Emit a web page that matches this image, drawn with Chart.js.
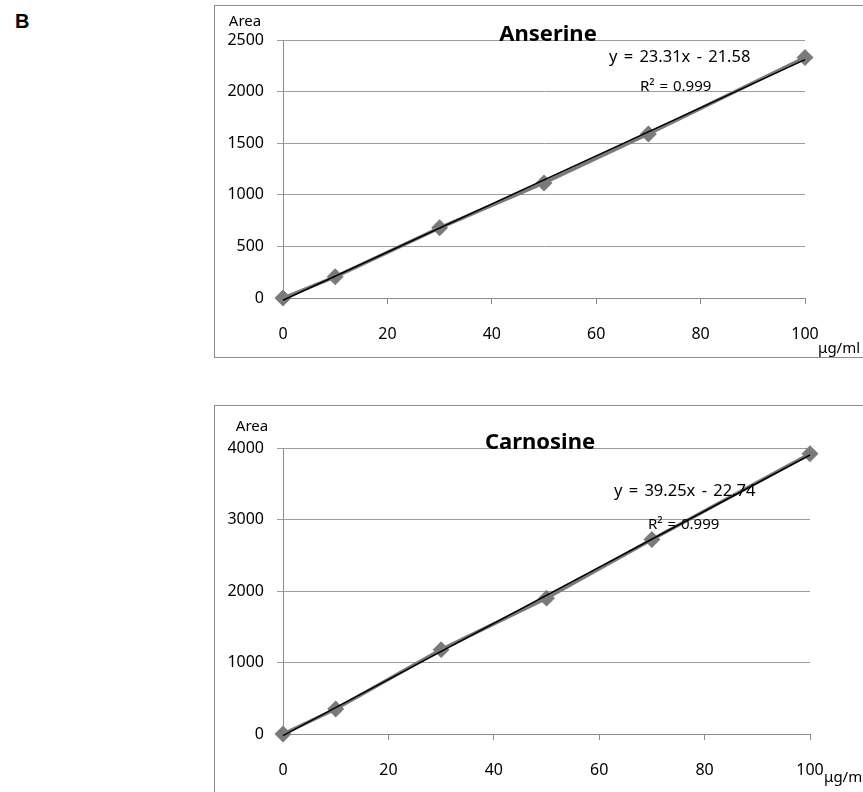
<!DOCTYPE html>
<html lang="en">
<head>
    <meta charset="UTF-8">
    <title>Anserine / Carnosine calibration</title>
    <script src="https://cdn.jsdelivr.net/npm/chart.js"></script>
    <style>
        html, body { margin: 0; padding: 0; background: #fff; overflow: hidden; width: 863px; height: 792px; }
        .panel { position: absolute; left: 214px; width: 700px; border: 1px solid #8c8c8c; background: #fff; }
        .panel canvas { display: block; }
        #lbl { position: absolute; left: 15px; top: 10px; font: bold 20px "Liberation Sans", Arial, sans-serif; }
    </style>
</head>
<body>
    <div id="lbl">B</div>
    <div class="panel" style="top:5px; height:351px;"><canvas id="c1" width="648" height="351"></canvas></div>
    <div class="panel" style="top:405px; height:420px;"><canvas id="c2" width="648" height="386"></canvas></div>
    <script>
        const conc = [0, 10, 30, 50, 70, 100];
        const anserine = [0, 205, 680, 1115, 1590, 2330];
        const carnosine = [0, 350, 1180, 1900, 2720, 3920];
        const trendX = [0, 100];
        const anserineTrend = [-21.58, 2309.42];
        const carnosineTrend = [-22.74, 3902.26];
        const xTicks = [0, 20, 40, 60, 80, 100];

        const FONT = '"Noto Sans", "Open Sans", sans-serif';

        function pts(xs, ys) {
            return xs.map((x, i) => ({ x: x, y: ys[i] }));
        }

        function makeChart(id, opt) {
            const textPlugin = {
                id: 'texts',
                afterDraw(chart) {
                    const ctx = chart.ctx;
                    ctx.save();
                    ctx.fillStyle = '#000';
                    ctx.textBaseline = 'middle';
                    ctx.textAlign = 'center';
                    ctx.font = 'bold 22px ' + FONT;
                    ctx.fillText(opt.title, opt.titlePos[0], opt.titlePos[1]);
                    ctx.font = '16.5px ' + FONT;
                    ctx.textAlign = 'left';
                    ctx.wordSpacing = '2px';
                    ctx.fillText(opt.eq, opt.eqPos[0], opt.eqPos[1]);
                    ctx.wordSpacing = '1px';
                    ctx.font = '15px ' + FONT;
                    ctx.fillText('R² = 0.999', opt.r2Pos[0], opt.r2Pos[1]);
                    ctx.wordSpacing = '0px';
                    ctx.textAlign = 'center';
                    ctx.fillText('Area', opt.areaPos[0], opt.areaPos[1]);
                    ctx.textAlign = 'left';
                    ctx.fillText('μg/ml', opt.unitPos[0], opt.unitPos[1]);
                    ctx.restore();
                }
            };

            return new Chart(document.getElementById(id), {
                type: 'scatter',
                data: {
                    datasets: [
                        {
                            label: 'trend',
                            data: pts(trendX, opt.trend),
                            showLine: true,
                            borderColor: '#000',
                            borderWidth: 1.5,
                            pointRadius: 0,
                            order: 0
                        },
                        {
                            label: opt.title,
                            data: pts(conc, opt.values),
                            showLine: true,
                            borderColor: '#7a7a7a',
                            borderWidth: 3.5,
                            pointStyle: 'rectRot',
                            pointRadius: 6,
                            pointBackgroundColor: '#7a7a7a',
                            pointBorderColor: '#7a7a7a',
                            order: 1
                        }
                    ]
                },
                options: {
                    responsive: false,
                    animation: false,
                    clip: false,
                    layout: { padding: { top: opt.padTop, right: opt.padRight, left: 0, bottom: 0 } },
                    plugins: { legend: { display: false }, tooltip: { enabled: false } },
                    scales: {
                        x: {
                            type: 'linear',
                            min: 0,
                            max: 100,
                            afterBuildTicks(scale) { scale.ticks = xTicks.map(v => ({ value: v })); },
                            afterFit(scale) { scale.height = opt.xHeight; },
                            grid: { display: true, drawOnChartArea: false, color: '#8c8c8c', tickLength: 6 },
                            border: { color: '#8c8c8c' },
                            ticks: { color: '#000', padding: 21, maxRotation: 0, font: { family: FONT, size: 16 } }
                        },
                        y: {
                            min: 0,
                            max: opt.yMax,
                            ticks: {
                                stepSize: opt.yStep,
                                color: '#000',
                                padding: 13,
                                font: { family: FONT, size: 16 },
                                callback: v => String(v)
                            },
                            afterFit(scale) { scale.width = 68; },
                            grid: { color: '#9c9c9c', tickLength: 6 },
                            border: { color: '#8c8c8c' }
                        }
                    }
                },
                plugins: [textPlugin]
            });
        }

        makeChart('c1', {
            title: 'Anserine',
            values: anserine,
            trend: anserineTrend,
            yMax: 2500,
            yStep: 500,
            padTop: 34,
            padRight: 58,
            xHeight: 59,
            titlePos: [333, 29],
            eq: 'y = 23.31x - 21.58',
            eqPos: [394, 51],
            r2Pos: [425, 81],
            areaPos: [30, 16],
            unitPos: [603, 343]
        });

        makeChart('c2', {
            title: 'Carnosine',
            values: carnosine,
            trend: carnosineTrend,
            yMax: 4000,
            yStep: 1000,
            padTop: 42,
            padRight: 53,
            xHeight: 58,
            titlePos: [325, 37],
            eq: 'y = 39.25x - 22.74',
            eqPos: [399, 85],
            r2Pos: [433, 119],
            areaPos: [37, 21],
            unitPos: [609, 372]
        });
    </script>
</body>
</html>
